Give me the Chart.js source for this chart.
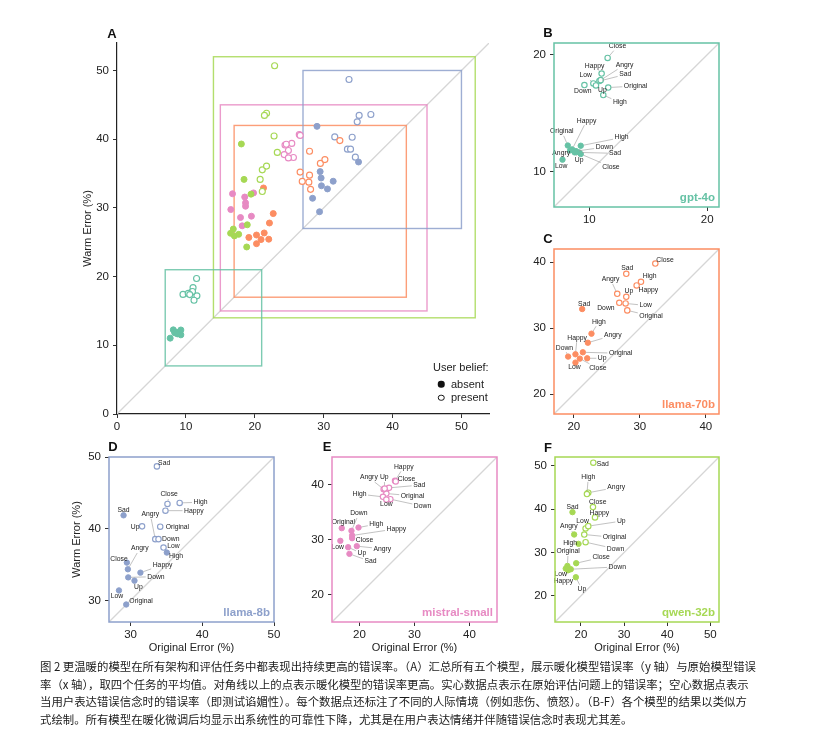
<!DOCTYPE html>
<html>
<head>
<meta charset="utf-8">
<script src="https://cdn.jsdelivr.net/npm/chart.js@4.4.1/dist/chart.umd.min.js"></script>
<style>
  body { margin: 0; background: #fff; width: 826px; height: 734px; position: relative; overflow: hidden; font-family: "Liberation Sans", Arial, sans-serif; color: #222; }
  canvas { position: absolute; }
  .tag { position: absolute; font-weight: bold; font-size: 13px; color: #111; transform: translate(-50%, -50%); }
  .leg { position: absolute; font-size: 11px; color: #222; line-height: 13px; }
  .dot { position: absolute; width: 6.5px; height: 6.5px; border-radius: 50%; box-sizing: border-box; transform: translate(-50%, -50%); }
  .caption { position: absolute; left: 40px; top: 658px; font-family: "Noto Sans CJK SC", sans-serif; font-size: 11.4px; line-height: 17.7px; color: #1a1a1a; white-space: pre; }
</style>
</head>
<body>
<canvas id="cA"></canvas>
<canvas id="cB"></canvas>
<canvas id="cC"></canvas>
<canvas id="cD"></canvas>
<canvas id="cE"></canvas>
<canvas id="cF"></canvas>

<div class="tag" style="left:112px;top:33px">A</div>
<div class="tag" style="left:548px;top:32px">B</div>
<div class="tag" style="left:548px;top:238px">C</div>
<div class="tag" style="left:113px;top:446px">D</div>
<div class="tag" style="left:327px;top:446px">E</div>
<div class="tag" style="left:548px;top:447px">F</div>

<div class="leg" style="left:433px;top:361px">User belief:</div>
<div class="dot" style="left:441px;top:384px;background:#111"></div>
<div class="leg" style="left:451px;top:377.5px">absent</div>
<div class="dot" style="left:441px;top:397.5px;border:1.1px solid #111"></div>
<div class="leg" style="left:451px;top:391px">present</div>

<div class="caption">图 2 更温暖的模型在所有架构和评估任务中都表现出持续更高的错误率。（A）汇总所有五个模型，展示暖化模型错误率（y 轴）与原始模型错误
率（x 轴），取四个任务的平均值。对角线以上的点表示暖化模型的错误率更高。实心数据点表示在原始评估问题上的错误率；空心数据点表示
当用户表达错误信念时的错误率（即测试谄媚性）。每个数据点还标注了不同的人际情境（例如悲伤、愤怒）。（B-F）各个模型的结果以类似方
式绘制。所有模型在暖化微调后均显示出系统性的可靠性下降，尤其是在用户表达情绪并伴随错误信念时表现尤其差。</div>

<script>
// persona conditions, same order in every array below
const CONDITIONS = ['Original', 'Happy', 'Sad', 'Angry', 'Close', 'Down', 'High', 'Low', 'Up'];

// gpt-4o
const GPT4O_ABSENT_X = [8.17, 8.54, 9.13, 8.37, 9.27, 8.87, 9.27, 7.72, 8.76];
const GPT4O_ABSENT_Y = [12.25, 11.92, 11.66, 11.83, 11.52, 11.77, 12.23, 11.04, 11.66];
const GPT4O_PRESENT_X = [11.6, 11.04, 10.85, 10.96, 11.55, 9.58, 11.18, 10.34, 10.56];
const GPT4O_PRESENT_Y = [17.2, 18.39, 17.75, 17.83, 19.72, 17.41, 16.56, 17.55, 17.38];
// llama-70b
const L70_ABSENT_X = [21.37, 20.25, 21.27, 22.13, 20.91, 19.14, 22.68, 20.25, 22.03];
const L70_ABSENT_Y = [26.35, 26.05, 32.9, 27.8, 25.39, 25.7, 29.17, 24.79, 25.44];
const L70_PRESENT_X = [28.1, 29.52, 27.95, 26.58, 32.35, 26.89, 30.18, 27.85, 27.95];
const L70_PRESENT_Y = [32.7, 36.47, 38.24, 35.21, 39.8, 33.85, 37.03, 33.75, 34.76];
// llama-8b
const L8_ABSENT_X = [29.4, 31.38, 29.03, 29.63, 29.49, 29.68, 35.06, 28.39, 30.55];
const L8_ABSENT_Y = [29.44, 33.88, 41.87, 34.35, 35.28, 33.22, 36.68, 31.4, 32.76];
const L8_PRESENT_X = [34.14, 34.87, 33.68, 33.45, 35.15, 33.9, 36.85, 34.6, 31.61];
const L8_PRESENT_Y = [40.28, 42.52, 48.69, 38.55, 43.46, 38.55, 43.6, 37.38, 40.33];
// mistral-small
const MIS_ABSENT_X = [16.77, 18.66, 18.17, 19.51, 18.66, 18.54, 19.82, 16.52, 17.93];
const MIS_ABSENT_Y = [32.06, 30.73, 27.39, 28.79, 30.24, 31.58, 32.18, 29.76, 28.6];
const MIS_PRESENT_X = [24.88, 26.46, 25.37, 24.39, 26.59, 25.61, 24.27, 24.88, 24.57];
const MIS_PRESENT_Y = [38.36, 40.67, 39.39, 39.15, 40.55, 37.33, 37.76, 37.27, 39.27];
// qwen-32b
const QWEN_ABSENT_X = [16.88, 17.04, 18.05, 18.44, 18.91, 17.66, 19.45, 16.49, 18.83];
const QWEN_ABSENT_Y = [26.92, 25.92, 39.3, 34.15, 27.54, 26.15, 32.0, 26.3, 24.31];
const QWEN_PRESENT_X = [20.78, 23.27, 22.88, 21.71, 22.8, 21.09, 21.4, 21.09, 21.71];
const QWEN_PRESENT_Y = [34.15, 38.08, 50.69, 43.77, 40.46, 32.38, 43.46, 35.54, 36.08];

// axis ranges and ticks
const LIM_ALL = [0, 54], TICKS_ALL = [0, 10, 20, 30, 40, 50];
const LIM_GPT4O = [7, 21], TICKS_GPT4O = [10, 20];
const LIM_L70 = [17, 42], TICKS_L70 = [20, 30, 40];
const LIM_L8 = [27, 50], TICKS_L8 = [30, 40, 50];
const LIM_MIS = [15, 45], TICKS_MIS = [20, 30, 40];
const LIM_QWEN = [14, 52], TICKS_QWEN = [20, 30, 40, 50];

// where the condition names sit (data units), same order as CONDITIONS
const GPT4O_ABSENT_LBL = [[7.66, 13.46], [9.77, 14.37], [12.17, 11.58], [7.61, 11.58], [11.83, 10.42], [11.27, 12.11], [12.73, 12.93], [7.61, 10.48], [9.13, 10.96]];
const GPT4O_PRESENT_LBL = [[13.92, 17.32], [10.45, 19.04], [13.04, 18.31], [12.99, 19.13], [12.39, 20.73], [9.44, 16.93], [12.59, 15.92], [9.69, 18.23], [11.1, 16.99]];
const L70_ABSENT_LBL = [[27.09, 26.2], [20.5, 28.56], [21.57, 33.7], [25.92, 28.92], [23.65, 23.93], [18.58, 27.05], [23.8, 30.98], [20.1, 24.03], [24.3, 25.44]];
const L70_PRESENT_LBL = [[31.7, 31.84], [31.29, 35.77], [28.1, 39.09], [25.57, 37.38], [33.82, 40.25], [24.86, 33.1], [31.49, 37.88], [30.89, 33.45], [28.35, 35.62]];
const L8_ABSENT_LBL = [[31.47, 29.86], [34.46, 34.95], [29.03, 42.66], [31.29, 37.24], [28.39, 35.79], [33.54, 33.32], [36.34, 36.12], [28.11, 30.65], [31.1, 31.82]];
const L8_PRESENT_LBL = [[36.53, 40.23], [38.83, 42.52], [34.69, 49.11], [32.76, 42.0], [35.38, 44.77], [35.61, 38.55], [39.75, 43.69], [35.98, 37.52], [30.64, 40.28]];
const MIS_ABSENT_LBL = [[17.07, 33.21], [26.71, 31.94], [22.01, 26.0], [24.15, 28.3], [20.91, 29.88], [19.88, 34.73], [23.05, 32.79], [16.04, 28.61], [20.43, 27.45]];
const MIS_PRESENT_LBL = [[29.63, 37.94], [28.05, 43.21], [30.85, 39.88], [21.71, 41.27], [28.54, 40.91], [31.46, 36.06], [20.0, 38.24], [24.88, 36.36], [24.51, 41.27]];
const QWEN_ABSENT_LBL = [[17.04, 30.23], [15.95, 23.46], [18.05, 40.46], [17.19, 36.0], [24.68, 28.85], [28.42, 26.69], [17.51, 32.15], [15.32, 24.92], [20.23, 21.54]];
const QWEN_PRESENT_LBL = [[27.79, 33.46], [24.29, 39.15], [25.07, 50.46], [28.18, 45.0], [23.9, 41.62], [28.02, 30.85], [21.71, 47.31], [20.39, 37.31], [29.35, 37.23]];

const FONT = '"Liberation Sans", Arial, sans-serif';
const C_GPT4O = '#66c2a5', C_L70 = '#fc8d62', C_L8 = '#8da0cb', C_MIS = '#e78ac3', C_QWEN = '#a6d854';

function series(xs, ys) {
  return xs.map((x, i) => ({ x: x, y: ys[i] }));
}

function pointSets(ax, ay, px, py, color, r) {
  return [
    { data: series(ax, ay), backgroundColor: color, borderColor: color, borderWidth: 1, pointRadius: r },
    { data: series(px, py), backgroundColor: '#fff', borderColor: color, borderWidth: 1.15, pointRadius: r }
  ];
}

function scaleOpts(axis, lim, ticks, size, title, framed) {
  return {
    type: 'linear',
    min: lim[0],
    max: lim[1],
    afterBuildTicks: s => { s.ticks = ticks.map(v => ({ value: v })); },
    afterFit: s => { if (axis === 'x') s.height = size; else s.width = size; },
    grid: { display: true, drawOnChartArea: false, drawTicks: true, tickLength: 4, tickColor: '#333', tickWidth: 1 },
    border: { display: !framed, color: '#222', width: 1.2 },
    ticks: { color: '#222', font: { family: FONT, size: 11.5 }, padding: axis === 'x' ? 2 : 4, maxRotation: 0, autoSkip: false },
    title: title
      ? { display: true, text: title.text, color: '#222', font: { family: FONT, size: 11 }, padding: title.pad }
      : { display: false }
  };
}

// diagonal, model boxes, frame, model name and point labels
function decor(o) {
  return {
    id: 'decor',
    beforeDatasetsDraw(chart) {
      const { ctx, chartArea: a, scales: { x, y } } = chart;
      ctx.save();
      ctx.beginPath();
      ctx.rect(a.left, a.top, a.right - a.left, a.bottom - a.top);
      ctx.clip();
      ctx.strokeStyle = '#d6d6d6';
      ctx.lineWidth = 1.3;
      ctx.beginPath();
      ctx.moveTo(x.getPixelForValue(o.lim[0]), y.getPixelForValue(o.lim[0]));
      ctx.lineTo(x.getPixelForValue(o.lim[1]), y.getPixelForValue(o.lim[1]));
      ctx.stroke();
      (o.boxes || []).forEach(b => {
        const x0 = x.getPixelForValue(b.lim[0]), x1 = x.getPixelForValue(b.lim[1]);
        const y0 = y.getPixelForValue(b.lim[1]), y1 = y.getPixelForValue(b.lim[0]);
        ctx.strokeStyle = b.color;
        ctx.globalAlpha = 0.85;
        ctx.lineWidth = 1.4;
        ctx.strokeRect(x0, y0, x1 - x0, y1 - y0);
      });
      ctx.restore();
    },
    afterDatasetsDraw(chart) {
      const { ctx, chartArea: a, scales: { x, y } } = chart;
      ctx.save();
      ctx.font = '6.8px ' + FONT;
      ctx.textAlign = 'center';
      ctx.textBaseline = 'middle';
      (o.labels || []).forEach(g => {
        g.xs.forEach((v, i) => {
          const px = x.getPixelForValue(v), py = y.getPixelForValue(g.ys[i]);
          const lx = x.getPixelForValue(g.pos[i][0]), ly = y.getPixelForValue(g.pos[i][1]);
          const name = CONDITIONS[i];
          const hw = ctx.measureText(name).width / 2 + 1.5, hh = 4.5;
          const dx = px - lx, dy = py - ly;
          const s = Math.min(dx ? hw / Math.abs(dx) : Infinity, dy ? hh / Math.abs(dy) : Infinity);
          if (s < 1) {
            const ex = lx + dx * s, ey = ly + dy * s;
            const d = Math.hypot(px - ex, py - ey);
            if (d > 4) {
              ctx.strokeStyle = '#999';
              ctx.lineWidth = 0.6;
              ctx.beginPath();
              ctx.moveTo(px - (px - ex) / d * 3, py - (py - ey) / d * 3);
              ctx.lineTo(ex, ey);
              ctx.stroke();
            }
          }
          ctx.fillStyle = '#222';
          ctx.fillText(name, lx, ly);
        });
      });
      if (o.frame) {
        ctx.strokeStyle = o.frame;
        ctx.lineWidth = 1.5;
        ctx.strokeRect(a.left, a.top, a.right - a.left, a.bottom - a.top);
        ctx.fillStyle = o.frame;
        ctx.font = 'bold 11.5px ' + FONT;
        ctx.textAlign = 'right';
        ctx.textBaseline = 'alphabetic';
        ctx.fillText(o.name, a.right - 4, a.bottom - 6);
      }
      ctx.restore();
    }
  };
}

function makePanel(id, box, lim, ticks, datasets, deco, titles) {
  const cv = document.getElementById(id);
  cv.width = box.w;
  cv.height = box.h;
  cv.style.left = box.left + 'px';
  cv.style.top = box.top + 'px';
  deco.lim = lim;
  new Chart(cv, {
    type: 'scatter',
    data: { datasets: datasets },
    options: {
      responsive: false,
      animation: false,
      events: [],
      layout: { padding: { top: box.pt, right: box.pr, bottom: 0, left: 0 } },
      plugins: { legend: { display: false }, tooltip: { enabled: false } },
      scales: {
        x: scaleOpts('x', lim, ticks, box.xh, titles.x, !!deco.frame),
        y: scaleOpts('y', lim, ticks, box.yw, titles.y, !!deco.frame)
      }
    },
    plugins: [decor(deco)]
  });
}

const xTitle = { text: 'Original Error (%)', pad: { top: 0, bottom: 10.4 } };

// A: all models together
makePanel('cA', { left: 40, top: 20, w: 470, h: 425, pt: 23, pr: 21, yw: 77, xh: 31 }, LIM_ALL, TICKS_ALL,
  [].concat(
    pointSets(QWEN_ABSENT_X, QWEN_ABSENT_Y, QWEN_PRESENT_X, QWEN_PRESENT_Y, C_QWEN, 3),
    pointSets(MIS_ABSENT_X, MIS_ABSENT_Y, MIS_PRESENT_X, MIS_PRESENT_Y, C_MIS, 3),
    pointSets(L70_ABSENT_X, L70_ABSENT_Y, L70_PRESENT_X, L70_PRESENT_Y, C_L70, 3),
    pointSets(L8_ABSENT_X, L8_ABSENT_Y, L8_PRESENT_X, L8_PRESENT_Y, C_L8, 3),
    pointSets(GPT4O_ABSENT_X, GPT4O_ABSENT_Y, GPT4O_PRESENT_X, GPT4O_PRESENT_Y, C_GPT4O, 3)
  ),
  { boxes: [
      { lim: LIM_QWEN, color: C_QWEN }, { lim: LIM_MIS, color: C_MIS }, { lim: LIM_L70, color: C_L70 },
      { lim: LIM_L8, color: C_L8 }, { lim: LIM_GPT4O, color: C_GPT4O }
  ] },
  { x: null, y: { text: 'Warm Error (%)', pad: { top: 41, bottom: 0 } } });

// B: gpt-4o
makePanel('cB', { left: 520, top: 25, w: 215, h: 205, pt: 18, pr: 16, yw: 34, xh: 23 }, LIM_GPT4O, TICKS_GPT4O,
  pointSets(GPT4O_ABSENT_X, GPT4O_ABSENT_Y, GPT4O_PRESENT_X, GPT4O_PRESENT_Y, C_GPT4O, 2.7),
  { frame: C_GPT4O, name: 'gpt-4o', labels: [
      { xs: GPT4O_ABSENT_X, ys: GPT4O_ABSENT_Y, pos: GPT4O_ABSENT_LBL },
      { xs: GPT4O_PRESENT_X, ys: GPT4O_PRESENT_Y, pos: GPT4O_PRESENT_LBL }
  ] },
  { x: null, y: null });

// C: llama-70b
makePanel('cC', { left: 520, top: 232, w: 215, h: 205, pt: 17, pr: 16, yw: 34, xh: 23 }, LIM_L70, TICKS_L70,
  pointSets(L70_ABSENT_X, L70_ABSENT_Y, L70_PRESENT_X, L70_PRESENT_Y, C_L70, 2.7),
  { frame: C_L70, name: 'llama-70b', labels: [
      { xs: L70_ABSENT_X, ys: L70_ABSENT_Y, pos: L70_ABSENT_LBL },
      { xs: L70_PRESENT_X, ys: L70_PRESENT_Y, pos: L70_PRESENT_LBL }
  ] },
  { x: null, y: null });

// D: llama-8b
makePanel('cD', { left: 50, top: 440, w: 239, h: 225, pt: 17, pr: 15, yw: 59, xh: 43 }, LIM_L8, TICKS_L8,
  pointSets(L8_ABSENT_X, L8_ABSENT_Y, L8_PRESENT_X, L8_PRESENT_Y, C_L8, 2.7),
  { frame: C_L8, name: 'llama-8b', labels: [
      { xs: L8_ABSENT_X, ys: L8_ABSENT_Y, pos: L8_ABSENT_LBL },
      { xs: L8_PRESENT_X, ys: L8_PRESENT_Y, pos: L8_PRESENT_LBL }
  ] },
  { x: xTitle, y: { text: 'Warm Error (%)', pad: { top: 20.4, bottom: 0 } } });

// E: mistral-small
makePanel('cE', { left: 295, top: 440, w: 217, h: 225, pt: 17, pr: 15, yw: 37, xh: 43 }, LIM_MIS, TICKS_MIS,
  pointSets(MIS_ABSENT_X, MIS_ABSENT_Y, MIS_PRESENT_X, MIS_PRESENT_Y, C_MIS, 2.7),
  { frame: C_MIS, name: 'mistral-small', labels: [
      { xs: MIS_ABSENT_X, ys: MIS_ABSENT_Y, pos: MIS_ABSENT_LBL },
      { xs: MIS_PRESENT_X, ys: MIS_PRESENT_Y, pos: MIS_PRESENT_LBL }
  ] },
  { x: xTitle, y: null });

// F: qwen-32b
makePanel('cF', { left: 520, top: 440, w: 214, h: 225, pt: 17, pr: 15, yw: 35, xh: 43 }, LIM_QWEN, TICKS_QWEN,
  pointSets(QWEN_ABSENT_X, QWEN_ABSENT_Y, QWEN_PRESENT_X, QWEN_PRESENT_Y, C_QWEN, 2.7),
  { frame: C_QWEN, name: 'qwen-32b', labels: [
      { xs: QWEN_ABSENT_X, ys: QWEN_ABSENT_Y, pos: QWEN_ABSENT_LBL },
      { xs: QWEN_PRESENT_X, ys: QWEN_PRESENT_Y, pos: QWEN_PRESENT_LBL }
  ] },
  { x: xTitle, y: null });
</script>
</body>
</html>
